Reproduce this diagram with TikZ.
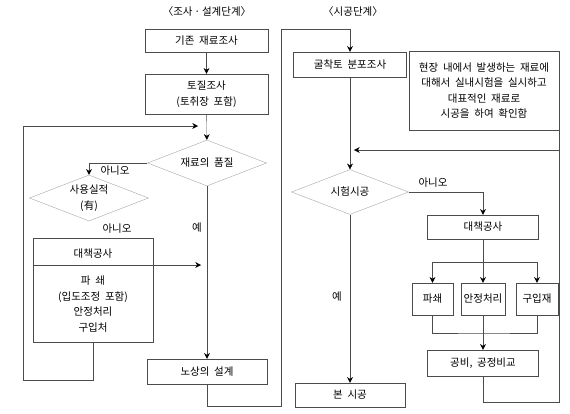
\documentclass[tikz,border=0pt]{standalone}
\usepackage{fontspec}
\setmainfont{Noto Sans CJK KR}[WordSpace=2]
\usepackage{tikz}
\usetikzlibrary{shapes.geometric, arrows.meta, positioning, calc}

\begin{document}
\begin{tikzpicture}[x=1pt, y=-1pt, font=\fontsize{10.5}{15.5}\selectfont]
    % Define styles
    \tikzstyle{box} = [rectangle, draw=black!70, align=center, inner sep=1pt]
    \tikzstyle{decision} = [diamond, draw=black!35, align=center, inner sep=0pt, aspect=2.6, minimum width=119pt, minimum height=46pt]
    \tikzstyle{line} = [draw=black!70]
    \tikzstyle{arrow} = [draw=black!70, -{Stealth[length=2mm, width=2mm, color=black]}]
    \tikzstyle{tag} = [inner sep=1pt, align=center]

    \useasboundingbox (0,0) rectangle (570,413);

    % Stage titles
    \node[tag] (title1) at (207,12) {〈조사\,·\,설계단계〉};
    \node[tag] (title2) at (353,12) {〈시공단계〉};

    % Survey and design stage
    \node[box, minimum width=123pt, minimum height=23pt] (b1) at (206.5,40.5) {기존 재료조사};
    \node[box, minimum width=123pt, minimum height=40pt] (b2) at (206.5,94) {토질조사\\(토취장 포함)};
    \node[decision] (d1) at (207,163) {재료의 품질};
    \node[decision] (d2) at (89,198) {사용실적\\(有)};
    \node[box, minimum width=120pt, minimum height=104pt] (b3) at (93,290) {};
    \node[tag] (b3top) at (93,254) {대책공사};
    \node[tag] (b3txt) at (93,304) {파 쇄\\(입도조정 포함)\\안정처리\\구입처};
    \node[box, minimum width=120pt, minimum height=25pt] (b4) at (207,371.5) {노상의 설계};

    % Construction stage
    \node[box, minimum width=113pt, minimum height=25pt] (r1) at (350,64.5) {굴착토 분포조사};
    \node[box, minimum width=150pt, minimum height=79pt] (r2) at (484,90.5) {현장 내에서 발생하는 재료에\\대해서 실내시험을 실시하고\\대표적인 재료로\\시공을 하여 확인함};
    \node[decision, minimum width=117pt, minimum height=45pt] (d3) at (350,192) {시험시공};
    \node[box, minimum width=111pt, minimum height=24pt] (r3) at (483,227) {대책공사};
    \node[box, minimum width=41pt, minimum height=32pt] (r4) at (432.5,299) {파쇄};
    \node[box, minimum width=44pt, minimum height=32pt] (r5) at (483,299) {안정처리};
    \node[box, minimum width=42pt, minimum height=32pt] (r6) at (537,299) {구입재};
    \node[box, minimum width=111pt, minimum height=26pt] (r7) at (483,363) {공비, 공정비교};
    \node[box, minimum width=110pt, minimum height=24pt] (r8) at (350,395) {본 시공};

    % Branch labels
    \node[tag] (no1) at (115,171) {아니오};
    \node[tag] (no2) at (117,229) {아니오};
    \node[tag] (yes1) at (197,228) {예};
    \node[tag] (no3) at (433,183) {아니오};
    \node[tag] (yes2) at (337,297) {예};

    % Turning points
    \coordinate (m1) at (201,265);
    \coordinate (m2) at (198,126);
    \coordinate (c1) at (23,380);
    \coordinate (c2) at (281,406);
    \coordinate (c3) at (281,29);
    \coordinate (c4) at (559,150);
    \coordinate (m3) at (354,150);
    \coordinate (c5) at (483,402);
    \coordinate (c6) at (483,262);
    \coordinate (c7) at (483,333);

    % Arrows
    \draw[arrow] (b1) -- (b2);
    \draw[arrow] (b2) -- (d1);
    \draw[arrow] (d1.west) -| (d2.north);
    \draw[arrow] (d1.south) -- (b4.north);
    \draw[arrow] (b3.west |- m1) -- (m1);
    \draw[arrow] (b3.south) |- (c1) |- (m2);
    \draw[arrow] (b4.south) |- (c2) -- (c3) -| (r1.north);
    \draw[arrow] (r1) -- (d3);
    \draw[arrow] (c4) -- (m3);
    \draw[line] (r7.south) |- (c5) -| (r2.south east);
    \draw[arrow] (d3.east) -| (r3.north);
    \draw[line] (r3.south) -- (c6);
    \draw[arrow] (c6) -| (r4.north);
    \draw[arrow] (c6) -| (r6.north);
    \draw[arrow] (c6) -- (r5.north);
    \draw[line] (r4.south) |- (c7) -| (r6.south);
    \draw[arrow] (r5.south) -- (r7.north);
    \draw[arrow] (d3.south) -- (r8.north);

\end{tikzpicture}
\end{document}
